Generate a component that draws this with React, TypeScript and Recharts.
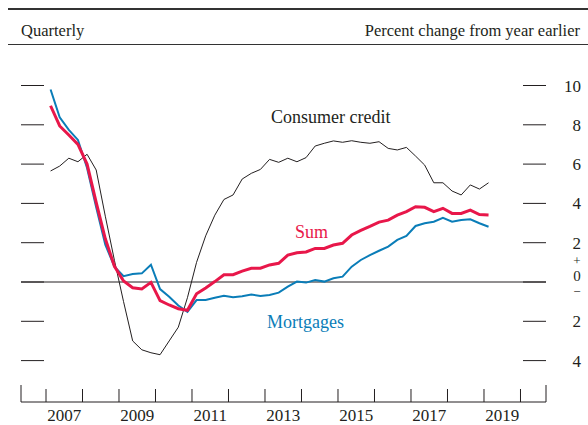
import { LineChart, Line, XAxis, YAxis, ReferenceLine } from 'recharts';

// quarterly observations, 2007:Q1 through 2019:Q1
const quarters = [
  '2007Q1', '2007Q2', '2007Q3', '2007Q4', '2008Q1', '2008Q2', '2008Q3', '2008Q4',
  '2009Q1', '2009Q2', '2009Q3', '2009Q4', '2010Q1', '2010Q2', '2010Q3', '2010Q4',
  '2011Q1', '2011Q2', '2011Q3', '2011Q4', '2012Q1', '2012Q2', '2012Q3', '2012Q4',
  '2013Q1', '2013Q2', '2013Q3', '2013Q4', '2014Q1', '2014Q2', '2014Q3', '2014Q4',
  '2015Q1', '2015Q2', '2015Q3', '2015Q4', '2016Q1', '2016Q2', '2016Q3', '2016Q4',
  '2017Q1', '2017Q2', '2017Q3', '2017Q4', '2018Q1', '2018Q2', '2018Q3', '2018Q4',
  '2019Q1',
];

const consumerCredit = [
  5.65, 5.9, 6.3, 6.12, 6.5, 5.7, 3.35, 1.1,
  -1.0, -3.0, -3.45, -3.6, -3.7, -3.0, -2.3, -0.8,
  1.0, 2.35, 3.4, 4.2, 4.43, 5.24, 5.53, 5.73,
  6.24, 6.09, 6.3, 6.12, 6.33, 6.92, 7.06, 7.18,
  7.11, 7.19, 7.11, 7.06, 7.14, 6.8, 6.72, 6.85,
  6.41, 5.95, 5.05, 5.05, 4.63, 4.43, 4.94, 4.73,
  5.05,
];

const sum = [
  8.97, 7.94, 7.48, 7.0, 6.0, 4.05, 2.2, 0.8,
  0.05, -0.29, -0.35, -0.02, -0.95, -1.17, -1.36, -1.44,
  -0.6, -0.3, 0.02, 0.37, 0.37, 0.55, 0.7, 0.7,
  0.87, 0.95, 1.37, 1.49, 1.53, 1.71, 1.71, 1.88,
  1.97, 2.39, 2.63, 2.83, 3.05, 3.15, 3.4, 3.58,
  3.83, 3.8, 3.58, 3.75, 3.49, 3.49, 3.66, 3.43,
  3.41,
];

const mortgages = [
  9.8, 8.38, 7.74, 7.23, 5.8, 3.8, 1.9, 0.78,
  0.3, 0.41, 0.44, 0.88, -0.36, -0.75, -1.2, -1.52,
  -0.92, -0.92, -0.8, -0.7, -0.78, -0.72, -0.64, -0.71,
  -0.66, -0.54, -0.24, 0.02, -0.03, 0.1, 0.02, 0.19,
  0.27, 0.78, 1.12, 1.37, 1.59, 1.8, 2.14, 2.34,
  2.85, 2.99, 3.07, 3.27, 3.07, 3.16, 3.19, 2.99,
  2.81,
];

const yTicks = [-4, -2, 0, 2, 4, 6, 8, 10];
const yearBreaks = [2007, 2008, 2009, 2010, 2011, 2012, 2013, 2014, 2015, 2016, 2017, 2018, 2019, 2020];
const yearLabels = ['2007', '2009', '2011', '2013', '2015', '2017', '2019'];

const X_DOMAIN: [number, number] = [2006.315, 2020.699];
const Y_DOMAIN: [number, number] = [-6.107, 11.807];

const FONT = "'Liberation Serif', 'Times New Roman', serif";
const INK = '#231f20';
const RED = '#e8174a';
const BLUE = '#0a7db8';

// each quarter plotted at its midpoint
const data = quarters.map((q, i) => {
  const year = Number(q.slice(0, 4));
  const qn = Number(q.slice(5));
  return {
    t: year + (qn - 1) / 4 + 0.125,
    consumer: consumerCredit[i],
    sum: sum[i],
    mortgages: mortgages[i],
  };
});

// year boundaries get a short inward tick, mid-years carry the label
const xTicks = [X_DOMAIN[0], ...yearBreaks, ...yearLabels.map((y) => Number(y) + 0.5), X_DOMAIN[1]].sort((a, b) => a - b);

const textStyle = { fontFamily: FONT, fontSize: 17, fill: INK };

function XTick({ x, y, payload }: any) {
  const v = payload.value as number;
  if (v === X_DOMAIN[0] || v === X_DOMAIN[1]) {
    return <line x1={x} x2={x} y1={y - 17} y2={y} stroke={INK} strokeWidth={1} />;
  }
  if (Number.isInteger(v)) {
    return <line x1={x} x2={x} y1={y - 13} y2={y} stroke={INK} strokeWidth={1} />;
  }
  return (
    <text x={x} y={y + 19} textAnchor="middle" style={textStyle}>
      {Math.floor(v)}
    </text>
  );
}

function RightTick({ x, y, payload }: any) {
  const v = payload.value as number;
  return (
    <g>
      <line x1={x - 23} x2={x} y1={y} y2={y} stroke={INK} strokeWidth={1} />
      {v === 0 ? (
        // stacked "+ 0 −" marker around zero
        <g>
          <text x={x + 31} y={y - 17.5} textAnchor="middle" style={{ ...textStyle, fontSize: 13 }}>+</text>
          <text x={x + 31} y={y - 1.5} textAnchor="middle" style={{ ...textStyle, fontSize: 15 }}>0</text>
          <text x={x + 31} y={y + 13.5} textAnchor="middle" style={{ ...textStyle, fontSize: 13 }}>−</text>
        </g>
      ) : (
        <text x={x + 35} y={y + 6} textAnchor="end" style={textStyle}>
          {Math.abs(v)}
        </text>
      )}
    </g>
  );
}

function LeftTick({ x, y }: any) {
  return <line x1={x} x2={x + 23} y1={y} y2={y} stroke={INK} strokeWidth={1} />;
}

export default function App() {
  return (
    <div style={{ position: 'absolute', left: 0, top: 0, width: 588, height: 425, background: '#fff' }}>
      <LineChart width={588} height={425} data={data} margin={{ top: 50, right: 0, bottom: 0, left: 0 }}>
        <XAxis
          dataKey="t"
          type="number"
          domain={X_DOMAIN}
          allowDataOverflow
          ticks={xTicks}
          interval={0}
          height={23}
          tickSize={0}
          tickMargin={0}
          tick={<XTick />}
          axisLine={{ stroke: INK, strokeWidth: 1 }}
          tickLine={false}
        />
        <YAxis
          yAxisId="r"
          orientation="right"
          type="number"
          domain={Y_DOMAIN}
          allowDataOverflow
          ticks={yTicks}
          interval={0}
          width={42}
          tickSize={0}
          tickMargin={0}
          tick={<RightTick />}
          axisLine={false}
          tickLine={false}
        />
        <YAxis
          yAxisId="l"
          orientation="left"
          type="number"
          domain={Y_DOMAIN}
          allowDataOverflow
          ticks={yTicks}
          interval={0}
          width={21}
          tickSize={0}
          tickMargin={0}
          tick={<LeftTick />}
          axisLine={false}
          tickLine={false}
        />
        <ReferenceLine yAxisId="r" y={0} stroke={INK} strokeWidth={1} />
        <Line yAxisId="r" dataKey="consumer" stroke={INK} strokeWidth={1} dot={false} isAnimationActive={false} />
        <Line yAxisId="r" dataKey="mortgages" stroke={BLUE} strokeWidth={2} dot={false} isAnimationActive={false} />
        <Line yAxisId="r" dataKey="sum" stroke={RED} strokeWidth={3} dot={false} isAnimationActive={false} />
      </LineChart>
      <svg width={588} height={425} style={{ position: 'absolute', left: 0, top: 0, pointerEvents: 'none' }}>
        <line x1={8} x2={588} y1={9} y2={9} stroke="#333" strokeWidth={2} />
        <line x1={8} x2={588} y1={44.5} y2={44.5} stroke="#333" strokeWidth={1} />
        <text x={21} y={35.5} style={{ ...textStyle, fontSize: 16.5 }}>Quarterly</text>
        <text x={580} y={35.5} textAnchor="end" style={{ ...textStyle, fontSize: 16.5 }}>
          Percent change from year earlier
        </text>
        <text x={271} y={123} style={{ ...textStyle, fontSize: 18 }}>Consumer credit</text>
        <text x={295} y={238} style={{ ...textStyle, fontSize: 18, fill: RED }}>Sum</text>
        <text x={267} y={327.5} style={{ ...textStyle, fontSize: 18, fill: BLUE }}>Mortgages</text>
      </svg>
    </div>
  );
}
